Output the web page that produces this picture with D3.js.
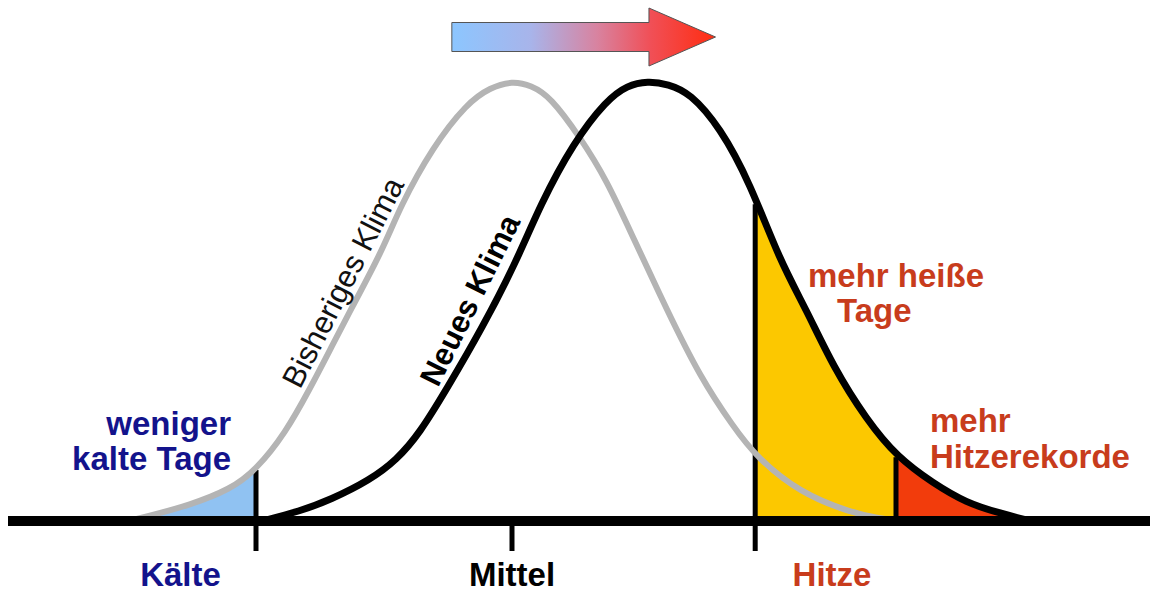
<!DOCTYPE html>
<html>
<head>
<meta charset="utf-8">
<script src="https://cdn.jsdelivr.net/npm/d3@7"></script>
<style>
  body { margin: 0; background: #fff; }
  text { font-family: "Liberation Sans", Arial, sans-serif; }
</style>
</head>
<body>
<svg id="chart" width="1152" height="594"></svg>
<script>
// temperature in arbitrary units (0 = old mean), frequency relative to the peak
var oldClimate = [
  [-3.0, 0], [-2.83, 0.012], [-2.52, 0.036], [-2.2, 0.072], [-2.0, 0.116],
  [-1.77, 0.2], [-1.58, 0.3], [-1.42, 0.39], [-1.27, 0.475], [-1.01, 0.616],
  [-0.875, 0.714], [-0.62, 0.85], [-0.35, 0.95], [-0.17, 0.985], [0, 1.0],
  [0.15, 0.99], [0.3, 0.964], [0.53, 0.873], [0.74, 0.775], [0.945, 0.645],
  [1.21, 0.48], [1.47, 0.327], [1.73, 0.214], [1.91, 0.145], [2.25, 0.064],
  [2.64, 0.02], [2.875, 0.005], [3.03, 0]
];
var newClimate = [
  [-1.95, 0], [-1.66, 0.022], [-1.42, 0.048], [-1.11, 0.093], [-0.9, 0.139],
  [-0.72, 0.2], [-0.51, 0.3], [-0.23, 0.44], [0.04, 0.593], [0.22, 0.718],
  [0.48, 0.86], [0.74, 0.957], [0.9, 0.99], [1.06, 1.0], [1.22, 0.993],
  [1.39, 0.973], [1.625, 0.895], [1.86, 0.768], [2.09, 0.593], [2.3, 0.48],
  [2.51, 0.35], [2.77, 0.23], [3.01, 0.145], [3.29, 0.086], [3.55, 0.041],
  [3.81, 0.018], [4.05, 0]
];
// thresholds: cold days, mean, hot days, heat records
var ticks = [
  { u: -2.0, top: 0.116, below: true },
  { u: 0.0, top: 0, below: true },
  { u: 1.9, top: 0.72, below: true },
  { u: 3.0, top: 0.145, below: false }
];
var tickLabels = ["Kälte", "Mittel", "Hitze"];
var tickLabelPos = [-2.59, 0, 2.5];

var svg = d3.select("#chart");
var x = d3.scaleLinear().domain([-4, 5]).range([0, 1152]);
var y = d3.scaleLinear().domain([0, 1]).range([521, 81]);

var defs = svg.append("defs");
var grad = defs.append("linearGradient").attr("id", "arrowGrad")
  .attr("x1", "0%").attr("x2", "100%");
[["0%", "#8cc6ff"], ["30%", "#a8b4ea"], ["55%", "#d883a0"], ["75%", "#f05058"], ["100%", "#ff2c10"]]
  .forEach(function(s) { grad.append("stop").attr("offset", s[0]).attr("stop-color", s[1]); });

function clip(id, u0, u1) {
  defs.append("clipPath").attr("id", id).append("rect")
    .attr("x", x(u0)).attr("y", 0)
    .attr("width", x(u1) - x(u0)).attr("height", 594);
}
clip("clipCold", -4, -2.0);
clip("clipHot", 1.9, 3.0);
clip("clipRecord", 3.0, 5);

var area = d3.area()
  .curve(d3.curveBasis)
  .x(function(d) { return x(d[0]); })
  .y0(y(0))
  .y1(function(d) { return y(d[1]); });
var line = d3.line()
  .curve(d3.curveBasis)
  .x(function(d) { return x(d[0]); })
  .y(function(d) { return y(d[1]); });

// shaded tails
svg.append("path").attr("d", area(oldClimate)).attr("fill", "#90c2f2").attr("clip-path", "url(#clipCold)");
svg.append("path").attr("d", area(newClimate)).attr("fill", "#fcc800").attr("clip-path", "url(#clipHot)");
svg.append("path").attr("d", area(newClimate)).attr("fill", "#f23c0c").attr("clip-path", "url(#clipRecord)");

// threshold ticks
svg.selectAll(".tick").data(ticks).enter().append("line")
  .attr("class", "tick")
  .attr("x1", function(d) { return x(d.u); })
  .attr("x2", function(d) { return x(d.u); })
  .attr("y1", function(d) { return y(d.top); })
  .attr("y2", function(d) { return d.below ? y(0) + 30 : y(0); })
  .attr("stroke", "#000").attr("stroke-width", 5);

// curves
svg.append("path").attr("d", line(oldClimate))
  .attr("fill", "none").attr("stroke", "#b4b4b4").attr("stroke-width", 6);
svg.append("path").attr("d", line(newClimate))
  .attr("fill", "none").attr("stroke", "#000").attr("stroke-width", 7);

// baseline
svg.append("line")
  .attr("x1", 8).attr("x2", 1150)
  .attr("y1", y(0)).attr("y2", y(0))
  .attr("stroke", "#000").attr("stroke-width", 10);

// shift arrow
var ax0 = x(-0.47), ax1 = x(1.07), ax2 = x(1.59), ay = y(1.1);
svg.append("path")
  .attr("d", "M" + ax0 + "," + (ay - 14.5) + "L" + ax1 + "," + (ay - 14.5) +
    "L" + ax1 + "," + (ay - 29) + "L" + ax2 + "," + ay + "L" + ax1 + "," + (ay + 29) +
    "L" + ax1 + "," + (ay + 14.5) + "L" + ax0 + "," + (ay + 14.5) + "Z")
  .attr("fill", "url(#arrowGrad)").attr("stroke", "#555").attr("stroke-width", 1);

// axis labels
var labelColors = ["#13138c", "#000", "#c83c1c"];
svg.selectAll(".tlabel").data(tickLabels).enter().append("text")
  .attr("class", "tlabel")
  .attr("x", function(d, i) { return x(tickLabelPos[i]); })
  .attr("y", 586)
  .attr("text-anchor", "middle")
  .attr("font-size", 33).attr("font-weight", "bold")
  .attr("fill", function(d, i) { return labelColors[i]; })
  .text(function(d) { return d; });

// annotations
function note(lines, px, py, anchor, color, dy) {
  var t = svg.append("text").attr("font-size", 33).attr("font-weight", "bold")
    .attr("fill", color).attr("text-anchor", anchor);
  lines.forEach(function(l, i) {
    t.append("tspan").attr("x", px[i]).attr("y", py + i * dy).text(l);
  });
}
note(["weniger", "kalte Tage"], [231, 231], 435, "end", "#13138c", 35);
note(["mehr heiße", "Tage"], [808, 837], 287, "start", "#c83c1c", 35);
note(["mehr", "Hitzerekorde"], [930, 930], 432, "start", "#c83c1c", 36);

svg.append("text")
  .attr("transform", "translate(300,390) rotate(-63)")
  .attr("font-size", 31).attr("fill", "#111")
  .text("Bisheriges Klima");
svg.append("text")
  .attr("transform", "translate(438,388) rotate(-63.5)")
  .attr("font-size", 31).attr("font-weight", "bold").attr("fill", "#000")
  .text("Neues Klima");
</script>
</body>
</html>
